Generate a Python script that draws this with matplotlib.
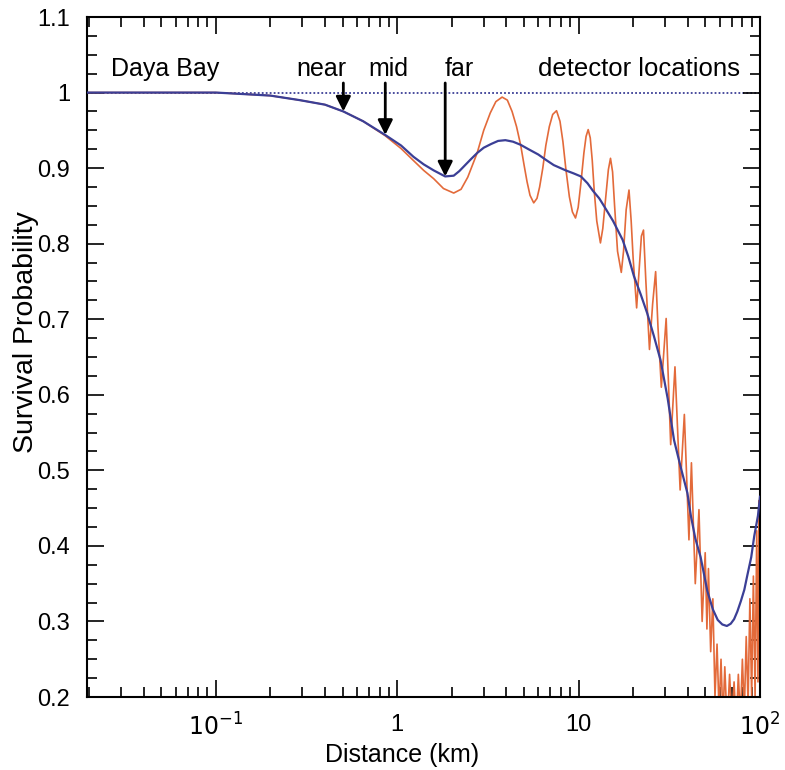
import matplotlib.pyplot as plt
import matplotlib.ticker as ticker

plt.rcParams['font.family'] = ['Liberation Sans', 'DejaVu Sans']

# averaged survival probability (blue)
blue_km = [0.0195, 0.1, 0.12, 0.2, 0.29, 0.4, 0.505, 0.65, 0.858, 1.05, 1.23, 1.4, 1.59,
           1.84, 2.05, 2.2, 2.53, 2.76, 3.0, 3.3, 3.6, 3.95, 4.35, 4.78, 5.3, 6.0, 6.6,
           7.3, 8.5, 9.4, 10.3, 11.2, 12.0, 13.0, 13.8, 15.5, 17.5, 18.8, 20.2, 22.0,
           23.9, 26.0, 28.3, 31.0, 33.6, 36.5, 39.8, 41.6, 44.0, 47.1, 51.3, 55.0,
           58.5, 62.0, 65.7, 69.0, 72.0, 75.0, 78.5, 82.0, 85.0, 89.5, 93.0, 97.5, 100.0]
blue_p = [1.0, 1.0, 0.999, 0.996, 0.990, 0.984, 0.975, 0.962, 0.944, 0.930, 0.915, 0.905, 0.897,
          0.889, 0.890, 0.896, 0.911, 0.920, 0.927, 0.932, 0.936, 0.937, 0.935, 0.931, 0.925, 0.918, 0.911,
          0.904, 0.897, 0.893, 0.889, 0.880, 0.870, 0.860, 0.850, 0.830, 0.805, 0.783, 0.757, 0.733,
          0.708, 0.678, 0.646, 0.595, 0.540, 0.505, 0.470, 0.440, 0.410, 0.385, 0.340, 0.316,
          0.302, 0.296, 0.294, 0.297, 0.303, 0.313, 0.327, 0.342, 0.360, 0.385, 0.413, 0.440, 0.465]

# oscillating survival probability (red)
red_km = [0.0195, 0.1, 0.12, 0.2, 0.29, 0.4, 0.505, 0.65, 0.858, 1.05, 1.23, 1.4, 1.59,
          1.8, 2.05, 2.25, 2.45, 2.76, 3.0, 3.26, 3.5, 3.79, 4.05, 4.3, 4.55, 4.8, 5.0,
          5.2, 5.4, 5.66, 5.9, 6.1, 6.35, 6.6, 6.9, 7.2, 7.56, 7.9, 8.2, 8.5, 8.9, 9.25,
          9.62, 9.95, 10.3, 10.7, 11.0, 11.3, 11.6, 11.9, 12.2, 12.6, 13.2, 13.6, 14.1,
          14.6, 15.0, 15.4, 15.8, 16.4, 17.2, 17.7, 18.3, 18.97, 19.5, 20.0, 20.9, 21.5,
          22.2, 22.8, 23.5, 24.6, 25.6, 26.6, 27.4, 28.6, 30.4, 32.2, 34.0, 36.3, 38.3,
          40.6, 41.9, 44.0, 46.1, 48.0, 49.9, 51.0, 52.0, 53.5, 55.0, 56.5, 58.0, 59.5,
          61.0, 62.5, 64.0, 66.0, 68.0, 70.0, 72.0, 74.0, 76.0, 78.0, 80.0, 82.0, 84.0,
          86.0, 88.0, 90.0, 92.0, 94.0, 96.0, 97.5, 99.0, 100.0]
red_p = [1.0, 1.0, 0.999, 0.996, 0.990, 0.984, 0.975, 0.962, 0.943, 0.926, 0.910, 0.897, 0.886,
         0.873, 0.867, 0.872, 0.888, 0.920, 0.950, 0.973, 0.988, 0.994, 0.990, 0.975, 0.955, 0.930, 0.905,
         0.882, 0.864, 0.854, 0.860, 0.875, 0.900, 0.930, 0.955, 0.971, 0.976, 0.962, 0.935, 0.900, 0.862, 0.842,
         0.834, 0.848, 0.880, 0.920, 0.942, 0.951, 0.940, 0.910, 0.870, 0.830, 0.801, 0.820, 0.860,
         0.898, 0.913, 0.895, 0.850, 0.790, 0.762, 0.790, 0.845, 0.871, 0.830, 0.780, 0.715, 0.760,
         0.810, 0.818, 0.750, 0.660, 0.720, 0.763, 0.690, 0.610, 0.701, 0.534, 0.637, 0.474, 0.574,
         0.408, 0.510, 0.350, 0.448, 0.300, 0.391, 0.290, 0.370, 0.260, 0.330, 0.200, 0.270, 0.180,
         0.250, 0.170, 0.240, 0.160, 0.230, 0.170, 0.220, 0.160, 0.230, 0.170, 0.250, 0.180, 0.280,
         0.190, 0.330, 0.200, 0.360, 0.200, 0.420, 0.220, 0.460, 0.300]

# detector locations: label, distance (km), arrow tip probability, label start (km)
det_names = ['near', 'mid', 'far']
det_km = [0.505, 0.86, 1.84]
det_tip = [0.975, 0.944, 0.889]
det_text_km = [0.277, 0.692, 1.82]

blue = '#3b3f96'
red = '#e36a3a'

fig = plt.figure(figsize=(7.85, 7.7), dpi=100)
ax = fig.add_axes([0.1108, 0.0948, 0.8573, 0.8831])

ax.axhline(1.0, color=blue, lw=1.3, ls=(0, (1, 1.2)), zorder=1)
ax.plot(red_km, red_p, color=red, lw=1.2, zorder=2)
ax.plot(blue_km, blue_p, color=blue, lw=1.6, zorder=3)

for name, xk, tip, xt in zip(det_names, det_km, det_tip, det_text_km):
    ax.text(xt, 1.022, name, fontsize=18, va='baseline', ha='left')
    ax.annotate('', xy=(xk, tip), xytext=(xk, 1.0127),
                arrowprops=dict(arrowstyle='-|>', lw=2, color='k', mutation_scale=22,
                                shrinkA=0, shrinkB=0), zorder=5)

ax.text(0.0266, 1.022, 'Daya Bay', fontsize=18, va='baseline', ha='left')
ax.text(5.94, 1.022, 'detector locations', fontsize=18.5, va='baseline', ha='left')

ax.set_xscale('log')
ax.set_xlim(0.0195, 100)
ax.set_ylim(0.2, 1.1)

ax.xaxis.set_major_locator(ticker.FixedLocator([0.1, 1, 10, 100]))
ax.xaxis.set_major_formatter(ticker.FixedFormatter([r'$10^{-1}$', '1', '10', r'$10^{2}$']))
ax.xaxis.set_minor_locator(ticker.LogLocator(base=10, subs=range(2, 10)))
ax.xaxis.set_minor_formatter(ticker.NullFormatter())
ax.yaxis.set_major_locator(ticker.MultipleLocator(0.1))
ax.yaxis.set_minor_locator(ticker.MultipleLocator(0.025))
ax.yaxis.set_major_formatter(ticker.FuncFormatter(lambda v, p: '1' if abs(v - 1) < 1e-6 else '%.1f' % v))

ax.tick_params(which='both', direction='in', top=True, right=True, width=1.2)
ax.tick_params(which='major', length=12, labelsize=17)
ax.tick_params(which='minor', length=7)
ax.tick_params(axis='y', which='major', pad=12)
ax.tick_params(axis='x', which='major', pad=12)
for s in ax.spines.values():
    s.set_linewidth(1.5)

ax.set_xlabel('Distance (km)', fontsize=18)
ax.set_ylabel('Survival Probability', fontsize=20.5)
ax.xaxis.set_label_coords(0.468, -0.068)
ax.yaxis.set_label_coords(-0.072, 0.537)

fig.savefig('out.png', dpi=100)
